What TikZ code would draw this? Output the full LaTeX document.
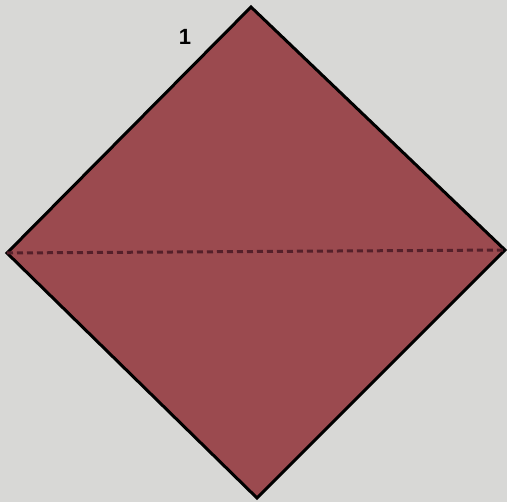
\documentclass[tikz,border=0pt]{standalone}
\usepackage{fontspec}
\setmainfont{Liberation Sans}
\definecolor{bg}{HTML}{D8D8D6}
\definecolor{paper}{HTML}{9B4A4F}
\definecolor{fold}{HTML}{55202A}
\begin{document}
\begin{tikzpicture}[x=1pt,y=-1pt,
  edge/.style={draw=black,line width=3pt,line join=miter},
  foldline/.style={draw=fold,line width=3pt,dash pattern=on 6pt off 4pt}]
\fill[bg] (0,0) rectangle (507,502);
\useasboundingbox (0,0) rectangle (507,502);
\coordinate (T) at (251,7);
\coordinate (L) at (7,253);
\coordinate (R) at (505,250);
\coordinate (B) at (257,498);
\filldraw[fill=paper,edge] (T) -- (R) -- (B) -- (L) -- cycle;
\draw[foldline] (L) -- (R);
\node[font=\bfseries\fontsize{22}{24}\selectfont] (n1) at (185,37) {1};
\end{tikzpicture}
\end{document}
